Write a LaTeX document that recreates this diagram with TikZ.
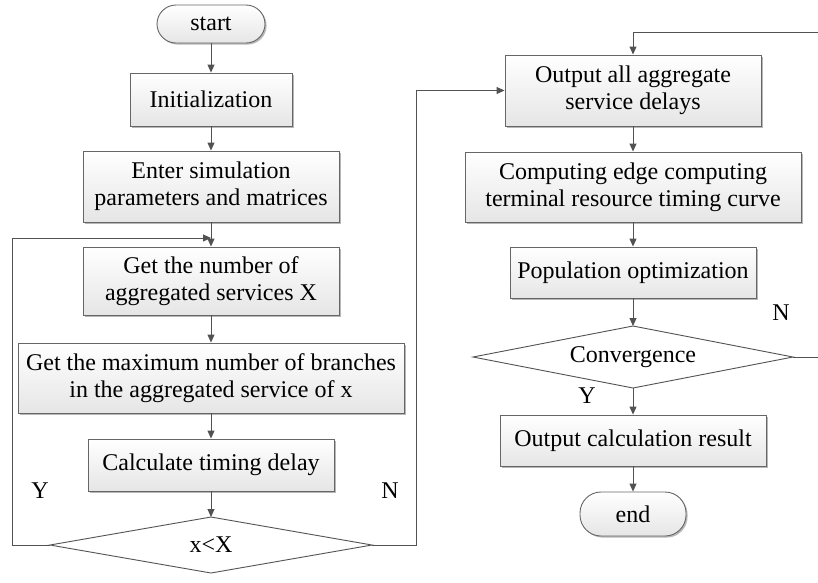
\documentclass[tikz,border=0pt]{standalone}
\usepackage{fontspec}
\setmainfont{Liberation Serif}
\usetikzlibrary{arrows.meta,shapes.geometric,shadows}

\tikzset{
  line/.style={draw=black!68, line width=0.9pt},
  arr/.style={line, -{Triangle[length=8pt,width=7pt]}},
  procbox/.style={rectangle, draw=black!60, line width=0.9pt,
    top color=white, bottom color=black!10,
    drop shadow={shadow xshift=1.6pt, shadow yshift=-1.6pt, fill=black!40, opacity=0.7},
    align=center, inner sep=0pt,
    font=\fontsize{24}{27}\selectfont},
  termbox/.style={procbox, rounded corners=19pt},
  lbl/.style={font=\fontsize{24}{27}\selectfont, inner sep=0pt},
}

\begin{document}
\begin{tikzpicture}[x=1pt, y=-1pt]
\useasboundingbox (0,0) rectangle (818,582);

% left column
\node[termbox, minimum width=108pt, minimum height=38pt] (start) at (211,24) {start};
\node[procbox, minimum width=162pt, minimum height=53pt] (init) at (211,99.5) {Initialization};
\node[procbox, minimum width=256pt, minimum height=71pt] (enter) at (211,186.5) {Enter simulation\\parameters and matrices};
\node[procbox, minimum width=256pt, minimum height=68pt] (getnum) at (211,281) {Get the number of\\aggregated services X};
\node[procbox, minimum width=386pt, minimum height=70pt] (getmax) at (211,378) {Get the maximum number of branches\\in the aggregated service of x};
\node[procbox, minimum width=246pt, minimum height=52pt] (calc) at (211,465) {Calculate timing delay};
\draw[line, fill=white] (50,545) coordinate (cmpL) -- (211,517) coordinate (cmpT) -- (372,545) coordinate (cmpR) -- (211,573) -- cycle;
\node[lbl] (cmp) at (211,545) {x<X};

% right column
\node[procbox, minimum width=256pt, minimum height=71pt] (outall) at (633,90.5) {Output all aggregate\\service delays};
\node[procbox, minimum width=336pt, minimum height=70pt] (edge) at (633,187) {Computing edge computing\\terminal resource timing curve};
\node[procbox, minimum width=246pt, minimum height=51pt] (pop) at (633,272.5) {Population optimization};
\draw[line, fill=white] (473,357) coordinate (convL) -- (633,326) coordinate (convT) -- (793,357) coordinate (convR) -- (633,388) coordinate (convB) -- cycle;
\node[lbl] (conv) at (633,357) {Convergence};
\node[procbox, minimum width=266pt, minimum height=51pt] (outres) at (633,440.5) {Output calculation result};
\node[termbox, minimum width=106pt, minimum height=44pt, rounded corners=21pt] (end) at (633,514) {end};

% loop junction points
\coordinate (jleft) at (211,238);
\coordinate (jtop) at (633,32);

% main flow, left column
\draw[arr] (start) -- (init);
\draw[arr] (init) -- (enter);
\draw[line] (enter) -- (jleft);
\draw[arr] (jleft) -- (getnum);
\draw[arr] (getnum) -- (getmax);
\draw[arr] (getmax) -- (calc);
\draw[arr] (calc) -- (cmpT);

% Y branch back to the loop head
\draw[arr] (cmpL) -- (12,545) -- (12,238) -- (jleft);
% N branch over to the right column
\draw[arr] (cmpR) -- (416,545) -- (416,90.5) -- (outall.west);

% main flow, right column
\draw[arr] (jtop) -- (outall.north);
\draw[arr] (outall) -- (edge);
\draw[arr] (edge) -- (pop);
\draw[arr] (pop) -- (convT);
\draw[arr] (convB) -- (outres);
\draw[arr] (outres) -- (end);

% N branch of the convergence test loops back to the top
\draw[line] (convR) -- (830,357) -- (830,32) -- (jtop);

% branch labels
\node[lbl] (ly1) at (40,491) {Y};
\node[lbl] (ln1) at (390,491) {N};
\node[lbl] (ln2) at (781,313) {N};
\node[lbl] (ly2) at (587,396) {Y};
\end{tikzpicture}
\end{document}
